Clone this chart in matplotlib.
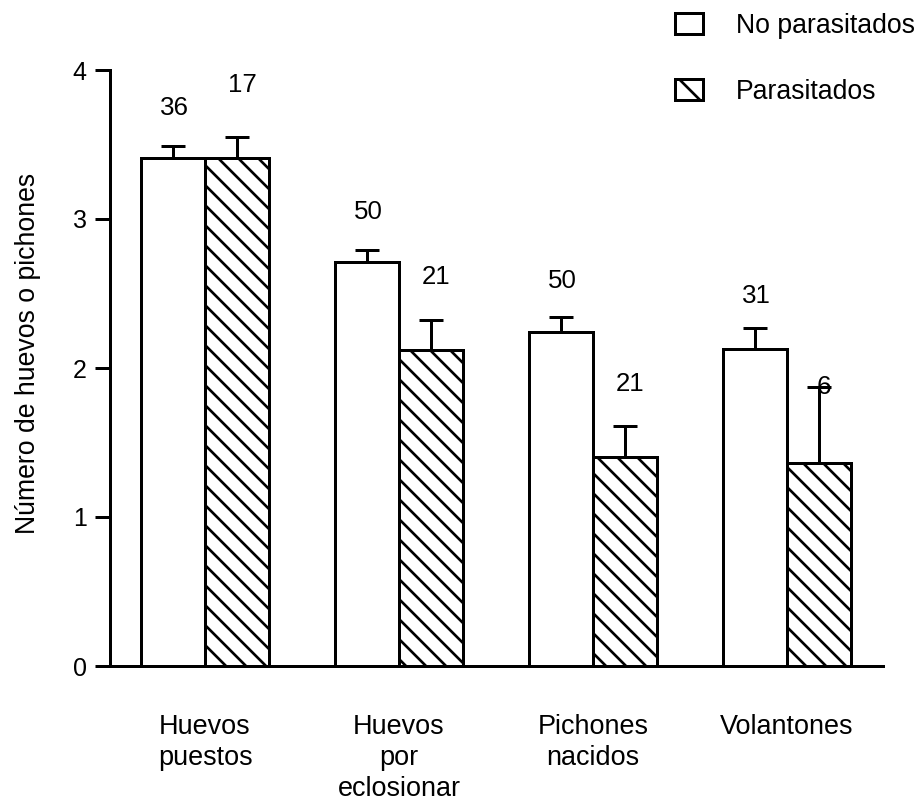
import numpy as np
import matplotlib
matplotlib.use("Agg")
import matplotlib.pyplot as plt
from matplotlib.patches import Patch

categorias = ["Huevos\npuestos", "Huevos\npor\neclosionar", "Pichones\nnacidos", "Volantones"]
no_parasitados = [3.41, 2.71, 2.24, 2.13]
no_parasitados_ee = [0.08, 0.08, 0.10, 0.14]
parasitados = [3.41, 2.12, 1.40, 1.36]
parasitados_ee = [0.14, 0.20, 0.21, 0.51]
n_no_par = [36, 50, 50, 31]
n_par = [17, 21, 21, 6]

plt.rcParams['font.family'] = ['Liberation Sans', 'DejaVu Sans']
plt.rcParams['hatch.linewidth'] = 1.6
plt.rcParams['hatch.color'] = 'black'

DPI = 120
fig = plt.figure(figsize=(923 / DPI, 801 / DPI), dpi=DPI)
ax = fig.add_axes([110 / 923, 1 - 666 / 801, (883 - 110) / 923, (666 - 70) / 801])

x = np.arange(len(categorias))
w = 0.33
lw = 1.8

ax.bar(x - w / 2, no_parasitados, w, color='white', edgecolor='black', linewidth=lw)
ax.bar(x + w / 2, parasitados, w, color='white', edgecolor='black', linewidth=lw, hatch='\\\\')

ax.errorbar(x - w / 2, no_parasitados, yerr=[np.zeros(4), no_parasitados_ee],
            fmt='none', ecolor='black', elinewidth=lw, capsize=7, capthick=lw)
ax.errorbar(x + w / 2, parasitados, yerr=[np.zeros(4), parasitados_ee],
            fmt='none', ecolor='black', elinewidth=lw, capsize=7, capthick=lw)

# sample sizes above the error bars (offsets in points)
off_no = [23, 23, 22, 19]
off_par = [31, 26, 25, 0]
for i in range(len(x)):
    ax.annotate(str(n_no_par[i]), (x[i] - w / 2, no_parasitados[i] + no_parasitados_ee[i]),
                xytext=(1, off_no[i]), textcoords='offset points',
                ha='center', va='center', fontsize=15.5)
    ax.annotate(str(n_par[i]), (x[i] + w / 2, parasitados[i] + parasitados_ee[i]),
                xytext=(3, off_par[i]), textcoords='offset points',
                ha='center', va='center', fontsize=15.5)

ax.set_xlim(-0.49, 3.495)
ax.set_ylim(0, 4)
ax.set_yticks([0, 1, 2, 3, 4])
ax.set_xticks(x)
ax.set_xticklabels(categorias, fontsize=16.2, linespacing=1.25)
ax.tick_params(axis='x', length=0, pad=29)
ax.tick_params(axis='y', length=9, width=lw, labelsize=15, pad=5)
for s in ['top', 'right']:
    ax.spines[s].set_visible(False)
for s in ['left', 'bottom']:
    ax.spines[s].set_linewidth(lw)

ax.set_ylabel("Número de huevos o pichones", fontsize=16)
ax.yaxis.set_label_coords(-0.089, 0.525)

handles = [Patch(facecolor='white', edgecolor='black', linewidth=lw, label='No parasitados'),
           Patch(facecolor='white', edgecolor='black', linewidth=lw, hatch='\\', label='Parasitados')]
fig.legend(handles=handles, loc='upper left', bbox_to_anchor=(675 / 923, 1 - 13 / 801),
           frameon=False, fontsize=16, handlelength=1.05, handleheight=0.85,
           handletextpad=1.25, labelspacing=1.5, borderpad=0, borderaxespad=0)

fig.savefig("out.png", dpi=DPI)
